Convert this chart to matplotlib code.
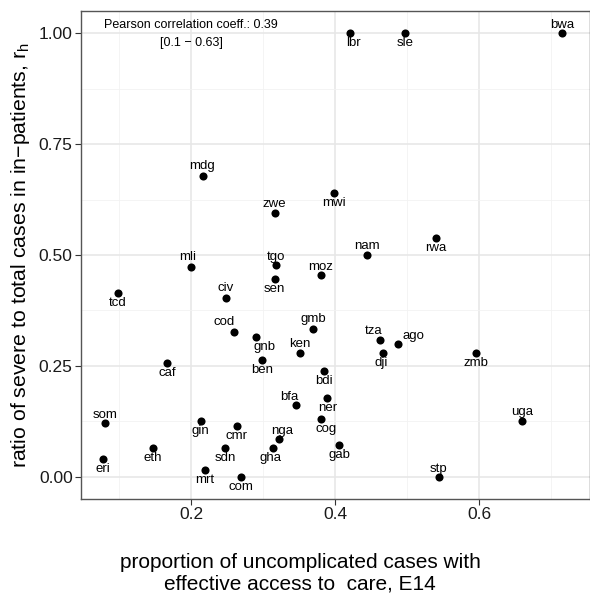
import matplotlib

matplotlib.use("Agg")
import matplotlib.pyplot as plt
import numpy as np

countries = ["lbr", "sle", "bwa", "mdg", "mwi", "zwe", "rwa", "nam", "mli", "tgo",
             "moz", "sen", "tcd", "civ", "cod", "gmb", "gnb", "tza", "ago", "dji",
             "zmb", "ken", "ben", "caf", "bdi", "ner", "bfa", "cog", "som", "gin",
             "cmr", "uga", "nga", "gab", "eth", "sdn", "gha", "eri", "mrt", "com",
             "stp"]
e14 = [0.421, 0.497, 0.715, 0.217, 0.399, 0.316, 0.540, 0.444, 0.200, 0.318,
       0.380, 0.316, 0.098, 0.248, 0.260, 0.369, 0.290, 0.463, 0.488, 0.467,
       0.595, 0.351, 0.299, 0.167, 0.385, 0.389, 0.346, 0.380, 0.081, 0.214,
       0.263, 0.660, 0.322, 0.406, 0.147, 0.247, 0.314, 0.078, 0.219, 0.269,
       0.544]
r_h = [1.000, 1.000, 1.000, 0.678, 0.640, 0.595, 0.538, 0.501, 0.474, 0.477,
       0.454, 0.447, 0.415, 0.402, 0.327, 0.334, 0.316, 0.308, 0.300, 0.279,
       0.279, 0.279, 0.263, 0.257, 0.239, 0.177, 0.161, 0.131, 0.121, 0.125,
       0.115, 0.125, 0.086, 0.072, 0.066, 0.066, 0.066, 0.040, 0.016, 0.000,
       0.000]
pearson_r = 0.39
pearson_ci = (0.1, 0.63)

# label placement relative to the point, in pixels (dx, dy up)
UP = (0, 9)
DOWN = (0, -10)
label_offsets = {c: DOWN for c in countries}
label_offsets.update({
    "bwa": (0, 8), "mdg": (-1, 10), "zwe": UP, "nam": UP, "mli": (-3, 10),
    "tgo": (0, 8), "moz": (0, 8), "civ": (0, 10), "cod": (-10, 10),
    "gmb": (0, 10), "tza": (-7, 9), "ago": (15, 8), "ken": UP, "bfa": (-7, 8),
    "som": (0, 8), "uga": UP, "nga": (3, 8), "stp": (0, 8),
    "lbr": (3, -10), "gnb": (9, -10), "dji": (-2, -10), "cog": (5, -10),
    "gha": (-3, -10), "gin": (-1, -10),
})

plt.rcParams["font.family"] = ["Liberation Sans", "DejaVu Sans"]
plt.rcParams["mathtext.fontset"] = "custom"
plt.rcParams["mathtext.rm"] = "Liberation Sans"

fig = plt.figure(figsize=(5.9, 5.96), dpi=100)
ax = fig.add_axes([81 / 590, 1 - 499 / 596, 1 - 81 / 590, (499 - 11) / 596])

ax.scatter(e14, r_h, s=34, color="black", zorder=3, linewidths=0)
for name, x, y in zip(countries, e14, r_h):
    dx, dy = label_offsets[name]
    ax.annotate(name, (x, y), xytext=(dx, dy), textcoords="offset pixels",
                ha="center", va="center", fontsize=9.5, color="black", zorder=4)

ax.text(0.2, 0.998,
        f"Pearson correlation coeff.: {pearson_r}\n[{pearson_ci[0]} \u2212 {pearson_ci[1]}]",
        ha="center", va="center", fontsize=9, linespacing=1.6)

ax.set_xlim(0.047, 0.754)
ax.set_ylim(-0.05, 1.05)
ax.set_xticks([0.2, 0.4, 0.6])
ax.set_xticklabels(["0.2", "0.4", "0.6"])
ax.set_xticks([0.1, 0.3, 0.5, 0.7], minor=True)
ax.set_yticks([0, 0.25, 0.5, 0.75, 1.0])
ax.set_yticklabels(["0.00", "0.25", "0.50", "0.75", "1.00"])
ax.set_yticks([0.125, 0.375, 0.625, 0.875], minor=True)

ax.grid(which="major", color="#e6e6e6", linewidth=1.1, zorder=0)
ax.grid(which="minor", color="#f2f2f2", linewidth=0.6, zorder=0)
ax.set_axisbelow(True)
ax.tick_params(which="major", length=4, width=0.8, color="#333333",
               labelsize=12.5, labelcolor="#1a1a1a", pad=2)
ax.tick_params(which="minor", length=0)
for sp in ax.spines.values():
    sp.set_color("#555555")
    sp.set_linewidth(1.0)

ax.set_ylabel("ratio of severe to total cases in in\u2212patients, $\\mathregular{r_h}$",
              fontsize=15.3, labelpad=5)
fig.text(300 / 590, 1 - 573 / 596,
         "proportion of uncomplicated cases with\neffective access to  care, E14",
         ha="center", va="center", fontsize=15, linespacing=1.2)

fig.savefig("out.png", dpi=100)
